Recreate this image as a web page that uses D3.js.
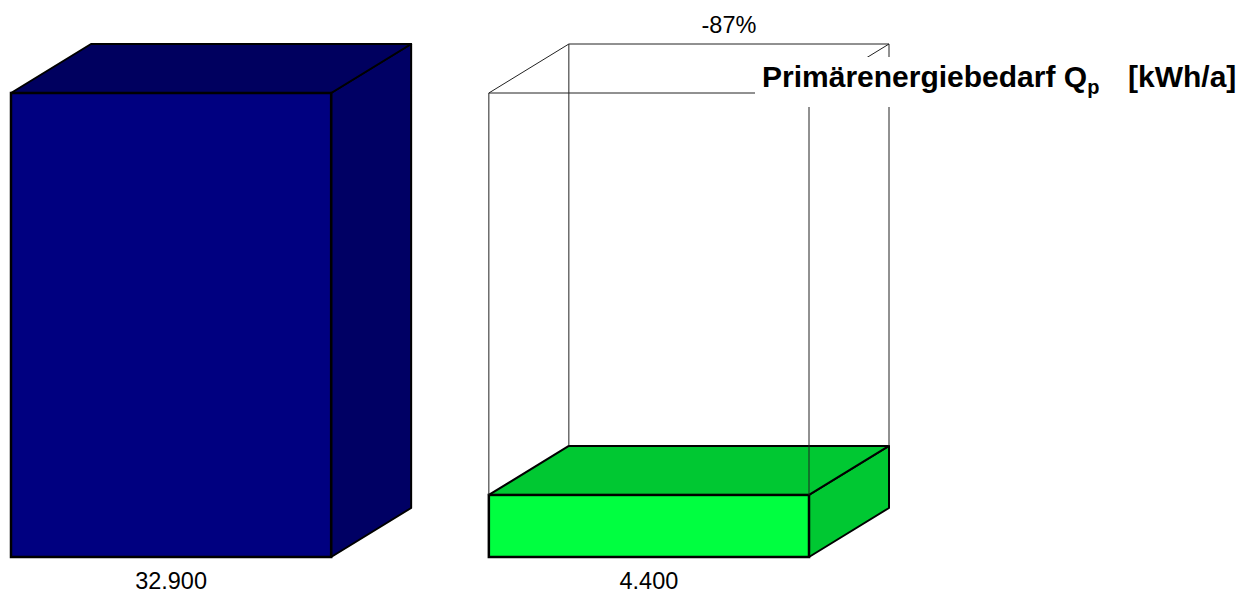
<!DOCTYPE html>
<html>
<head>
<meta charset="utf-8">
<script src="https://cdn.jsdelivr.net/npm/d3@7"></script>
<style>
  html, body { margin: 0; padding: 0; background: #fff; }
  svg { display: block; font-family: Arial, "Liberation Sans", sans-serif; }
</style>
</head>
<body>
<svg id="chart" width="1251" height="595"></svg>
<script>
// Primary energy demand before and after refurbishment
const categories = ["Bestand", "Saniert"];
const values = [32900, 4400];
const valueLabels = ["32.900", "4.400"];
const changeLabel = "-87%";
const frontColors = ["#000080", "#00ff40"];
const topColors = ["#00005f", "#00c832"];
const sideColors = ["#000064", "#00c832"];

const svg = d3.select("#chart");

const x = d3.scaleBand().domain(categories).range([11, 809]).paddingInner(0.33).paddingOuter(0);
const y = d3.scaleLinear().domain([0, d3.max(values)]).range([557, 93]);
const dx = 80, dy = 49; // 3D depth offset
const bw = x.bandwidth();

// 3D boxes
categories.forEach((c, i) => {
  const x0 = x(c), x1 = x0 + bw;
  const y0 = y(0), y1 = y(values[i]);
  const g = svg.append("g");
  // side face
  g.append("path")
    .attr("d", `M${x1},${y1} L${x1 + dx},${y1 - dy} L${x1 + dx},${y0 - dy} L${x1},${y0} Z`)
    .attr("fill", sideColors[i]).attr("stroke", "#000").attr("stroke-width", 2).attr("stroke-linejoin", "round");
  // top face
  g.append("path")
    .attr("d", `M${x0},${y1} L${x0 + dx},${y1 - dy} L${x1 + dx},${y1 - dy} L${x1},${y1} Z`)
    .attr("fill", topColors[i]).attr("stroke", "#000").attr("stroke-width", 2).attr("stroke-linejoin", "round");
  // front face
  g.append("rect")
    .attr("x", x0).attr("y", y1).attr("width", bw).attr("height", y0 - y1)
    .attr("fill", frontColors[i]).attr("stroke", "#000").attr("stroke-width", 2.5);
});

// wireframe outline around the second bar showing the original height
{
  const c = categories[1];
  const x0 = x(c), x1 = x0 + bw;
  const yt = y(values[0]);
  const yb = y(values[1]);
  const ybBack = yb - dy;
  const lines = [
    [x0, yt, x1, yt],
    [x0, yt, x0, yb],
    [x1, yt, x1, yb],
    [x0 + dx, yt - dy, x1 + dx, yt - dy],
    [x0, yt, x0 + dx, yt - dy],
    [x1, yt, x1 + dx, yt - dy],
    [x0 + dx, yt - dy, x0 + dx, ybBack],
    [x1 + dx, yt - dy, x1 + dx, ybBack]
  ];
  svg.append("g").selectAll("line").data(lines).join("line")
    .attr("x1", d => d[0]).attr("y1", d => d[1]).attr("x2", d => d[2]).attr("y2", d => d[3])
    .attr("stroke", "#222").attr("stroke-width", 1);

  // percentage change above the wireframe
  svg.append("text")
    .attr("x", x0 + dx + bw / 2).attr("y", yt - dy - 11)
    .attr("text-anchor", "middle").attr("font-size", 23.5).attr("fill", "#000")
    .text(changeLabel);
}

// value labels under each bar
svg.append("g").selectAll("text").data(categories).join("text")
  .attr("x", d => x(d) + bw / 2).attr("y", 589)
  .attr("text-anchor", "middle").attr("font-size", 23.5).attr("fill", "#000")
  .text((d, i) => valueLabels[i]);

// title with white backing
svg.append("rect").attr("x", 755).attr("y", 57).attr("width", 486).attr("height", 50).attr("fill", "#fff");
const title = svg.append("text").attr("x", 762).attr("y", 87)
  .attr("font-size", 30).attr("font-weight", "bold").attr("fill", "#000");
title.append("tspan").text("Primärenergiebedarf Q");
title.append("tspan").attr("font-size", 20).attr("dy", 7).text("p");
title.append("tspan").attr("x", 1128).attr("dy", -7).text("[kWh/a]");
</script>
</body>
</html>
